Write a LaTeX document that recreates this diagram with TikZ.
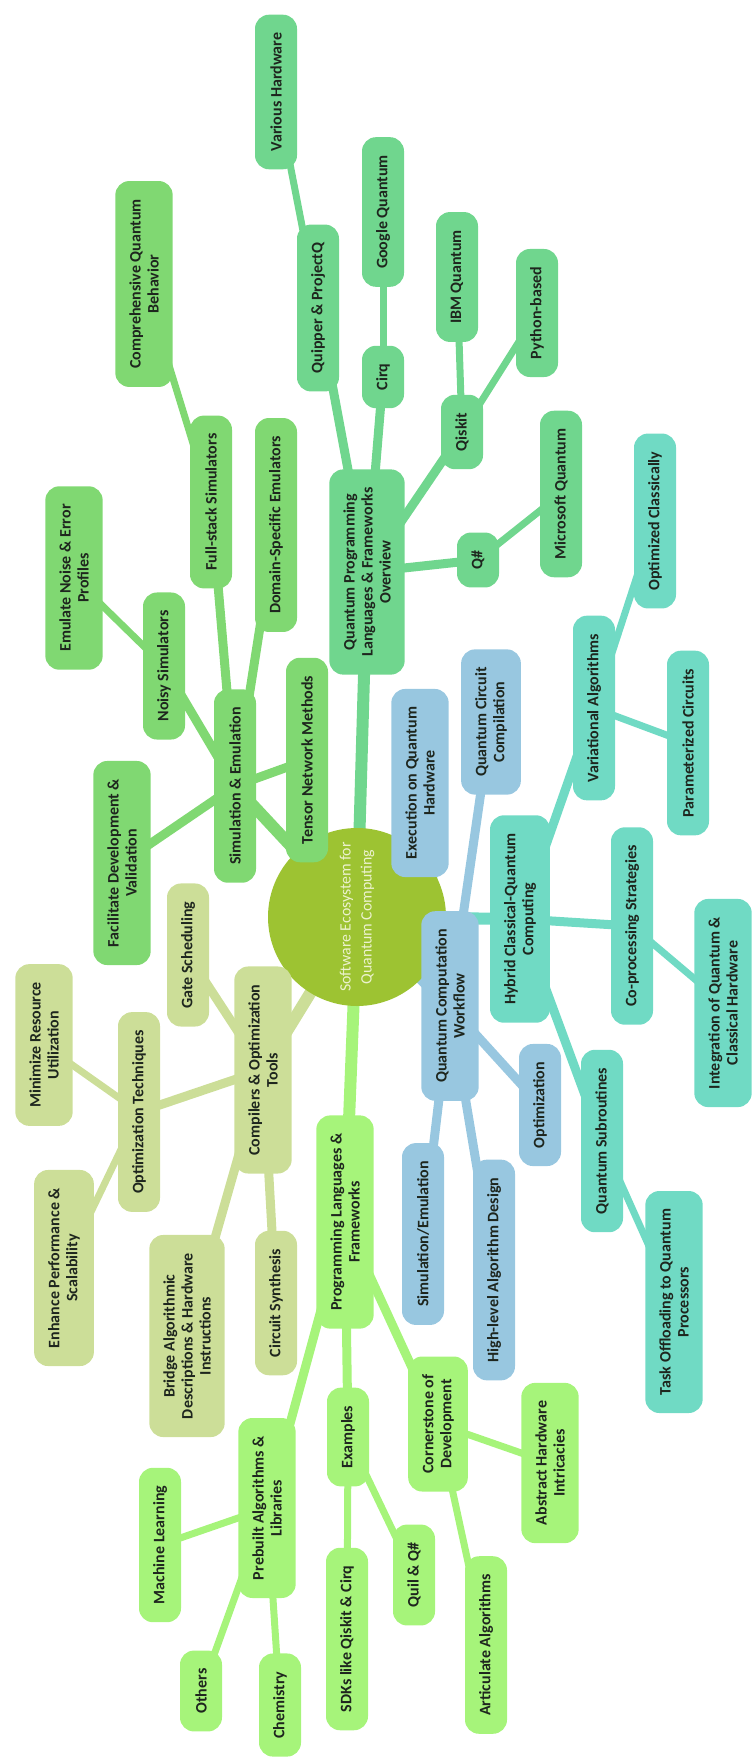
\documentclass[tikz,border=0pt]{standalone}
\usepackage{fontspec}
\setmainfont{Carlito}
\usetikzlibrary{backgrounds}

\definecolor{rootcol}{RGB}{157,195,50}
\definecolor{roottxt}{RGB}{236,242,206}
\definecolor{simcol}{RGB}{128,216,114}
\definecolor{qplcol}{RGB}{112,214,142}
\definecolor{wfcol}{RGB}{152,199,224}
\definecolor{hybcol}{RGB}{112,218,196}
\definecolor{compcol}{RGB}{204,222,152}
\definecolor{plcol}{RGB}{166,244,122}
\definecolor{txtcol}{RGB}{30,38,30}

\begin{document}
\begin{tikzpicture}[x=1pt,y=-1pt,
    box/.style={rotate=90,rounded corners=14pt,inner xsep=18pt,inner ysep=14pt,
      minimum height=42pt,align=center,text=txtcol,
      font=\fontsize{16}{18}\selectfont\bfseries},
    simbox/.style={box,fill=simcol},
    qplbox/.style={box,fill=qplcol},
    wfbox/.style={box,fill=wfcol},
    hybbox/.style={box,fill=hybcol},
    compbox/.style={box,fill=compcol},
    plbox/.style={box,fill=plcol},
    trunk/.style={line width=12pt},
    limb/.style={line width=9pt},
    twig/.style={line width=7pt}]
  \useasboundingbox (0,0) rectangle (752,1760);

  % centre
  \node[circle,fill=rootcol,minimum size=178pt,inner sep=0pt,rotate=90,align=center,
    text=roottxt,font=\fontsize{15.8}{21}\selectfont] (root) at (357,917)
    {Software Ecosystem for\\Quantum Computing};

  % simulation & emulation
  \node[simbox] (sim) at (235,786) {Simulation \& Emulation};
  \node[simbox] (noisy) at (164,666) {Noisy Simulators};
  \node[simbox] (emnoise) at (74,578) {Emulate Noise \& Error\\Profiles};
  \node[simbox] (fullstack) at (211,502) {Full-stack Simulators};
  \node[simbox] (comprq) at (144,284) {Comprehensive Quantum\\Behavior};
  \node[simbox] (domain) at (276,525) {Domain-Specific Emulators};
  \node[simbox] (tensor) at (307,760) {Tensor Network Methods};
  \node[simbox] (facil) at (122,863) {Facilitate Development \&\\Validation};

  % languages & frameworks overview
  \node[qplbox] (qpl) at (367,572) {Quantum Programming\\Languages \& Frameworks\\Overview};
  \node[qplbox] (quipper) at (318,308) {Quipper \& ProjectQ};
  \node[qplbox] (various) at (276,92) {Various Hardware};
  \node[qplbox] (cirq) at (383,377) {Cirq};
  \node[qplbox] (google) at (383,212) {Google Quantum};
  \node[qplbox] (qiskit) at (462,432) {Qiskit};
  \node[qplbox] (ibm) at (457,277) {IBM Quantum};
  \node[qplbox] (python) at (537,313) {Python-based};
  \node[qplbox] (qsharp) at (478,560) {Q\#};
  \node[qplbox] (microsoft) at (561,494) {Microsoft Quantum};

  % workflow
  \node[wfbox] (wf) at (450,1006) {Quantum Computation\\Workflow};
  \node[wfbox] (exec) at (420,783) {Execution on Quantum\\Hardware};
  \node[wfbox] (compil) at (491,722) {Quantum Circuit\\Compilation};
  \node[wfbox] (optim) at (540,1105) {Optimization};
  \node[wfbox] (simem) at (423,1234) {Simulation/Emulation};
  \node[wfbox] (highlvl) at (494,1270) {High-level Algorithm Design};

  % hybrid
  \node[hybbox] (hyb) at (520,919) {Hybrid Classical-Quantum\\Computing};
  \node[hybbox] (vari) at (594,708) {Variational Algorithms};
  \node[hybbox] (optcl) at (655,521) {Optimized Classically};
  \node[hybbox] (param) at (688,743) {Parameterized Circuits};
  \node[hybbox] (coproc) at (632,926) {Co-processing Strategies};
  \node[hybbox] (integ) at (723,1003) {Integration of Quantum \&\\Classical Hardware};
  \node[hybbox] (qsub) at (602,1141) {Quantum Subroutines};
  \node[hybbox] (offload) at (674,1302) {Task Offloading to Quantum\\Processors};

  % compilers
  \node[compbox] (comp) at (263,1070) {Compilers \& Optimization\\Tools};
  \node[compbox] (gate) at (188,955) {Gate Scheduling};
  \node[compbox] (opttech) at (139,1112) {Optimization Techniques};
  \node[compbox] (minres) at (44,1045) {Minimize Resource\\Utilization};
  \node[compbox] (enhance) at (64,1268) {Enhance Performance \&\\Scalability};
  \node[compbox] (bridge) at (187,1336) {Bridge Algorithmic\\Descriptions \& Hardware\\Instructions};
  \node[compbox] (synth) at (276,1303) {Circuit Synthesis};

  % programming languages
  \node[plbox] (pl) at (345,1222) {Programming Languages \&\\Frameworks};
  \node[plbox] (prebuilt) at (267,1508) {Prebuilt Algorithms \&\\Libraries};
  \node[plbox] (ml) at (160,1545) {Machine Learning};
  \node[plbox] (others) at (201,1691) {Others};
  \node[plbox] (chem) at (280,1705) {Chemistry};
  \node[plbox] (examples) at (348,1437) {Examples};
  \node[plbox] (sdks) at (347,1639) {SDKs like Qiskit \& Cirq};
  \node[plbox] (quil) at (414,1575) {Quil \& Q\#};
  \node[plbox] (corner) at (438,1424) {Cornerstone of\\Development};
  \node[plbox] (abstract) at (550,1463) {Abstract Hardware\\Intricacies};
  \node[plbox] (artic) at (486,1645) {Articulate Algorithms};

  \begin{scope}[on background layer]
    \draw[trunk,simcol] (root.center) -- (sim.center);
    \draw[limb,simcol] (sim.center) -- (noisy.center);
    \draw[limb,simcol] (sim.center) -- (fullstack.center);
    \draw[limb,simcol] (sim.center) -- (domain.center);
    \draw[limb,simcol] (sim.center) -- (tensor.center);
    \draw[limb,simcol] (sim.center) -- (facil.center);
    \draw[twig,simcol] (noisy.center) -- (emnoise.center);
    \draw[twig,simcol] (fullstack.center) -- (comprq.center);

    \draw[trunk,qplcol] (root.center) -- (qpl.center);
    \draw[limb,qplcol] (qpl.center) -- (quipper.center);
    \draw[limb,qplcol] (qpl.center) -- (cirq.center);
    \draw[limb,qplcol] (qpl.center) -- (qiskit.center);
    \draw[limb,qplcol] (qpl.center) -- (qsharp.center);
    \draw[twig,qplcol] (quipper.center) -- (various.center);
    \draw[twig,qplcol] (cirq.center) -- (google.center);
    \draw[twig,qplcol] (qiskit.center) -- (ibm.center);
    \draw[twig,qplcol] (qiskit.center) -- (python.center);
    \draw[twig,qplcol] (qsharp.center) -- (microsoft.center);

    \draw[trunk,wfcol] (root.center) -- (wf.center);
    \draw[limb,wfcol] (wf.center) -- (exec.center);
    \draw[limb,wfcol] (wf.center) -- (compil.center);
    \draw[limb,wfcol] (wf.center) -- (optim.center);
    \draw[limb,wfcol] (wf.center) -- (simem.center);
    \draw[limb,wfcol] (wf.center) -- (highlvl.center);

    \draw[trunk,hybcol] (root.center) -- (hyb.center);
    \draw[limb,hybcol] (hyb.center) -- (vari.center);
    \draw[limb,hybcol] (hyb.center) -- (coproc.center);
    \draw[limb,hybcol] (hyb.center) -- (qsub.center);
    \draw[twig,hybcol] (vari.center) -- (optcl.center);
    \draw[twig,hybcol] (vari.center) -- (param.center);
    \draw[twig,hybcol] (coproc.center) -- (integ.center);
    \draw[twig,hybcol] (qsub.center) -- (offload.center);

    \draw[trunk,compcol] (root.center) -- (comp.center);
    \draw[limb,compcol] (comp.center) -- (gate.center);
    \draw[limb,compcol] (comp.center) -- (opttech.center);
    \draw[limb,compcol] (comp.center) -- (bridge.center);
    \draw[limb,compcol] (comp.center) -- (synth.center);
    \draw[twig,compcol] (opttech.center) -- (minres.center);
    \draw[twig,compcol] (opttech.center) -- (enhance.center);

    \draw[trunk,plcol] (root.center) -- (pl.center);
    \draw[limb,plcol] (pl.center) -- (prebuilt.center);
    \draw[limb,plcol] (pl.center) -- (examples.center);
    \draw[limb,plcol] (pl.center) -- (corner.center);
    \draw[twig,plcol] (prebuilt.center) -- (ml.center);
    \draw[twig,plcol] (prebuilt.center) -- (others.center);
    \draw[twig,plcol] (prebuilt.center) -- (chem.center);
    \draw[twig,plcol] (examples.center) -- (sdks.center);
    \draw[twig,plcol] (examples.center) -- (quil.center);
    \draw[twig,plcol] (corner.center) -- (abstract.center);
    \draw[twig,plcol] (corner.center) -- (artic.center);
  \end{scope}
\end{tikzpicture}
\end{document}
